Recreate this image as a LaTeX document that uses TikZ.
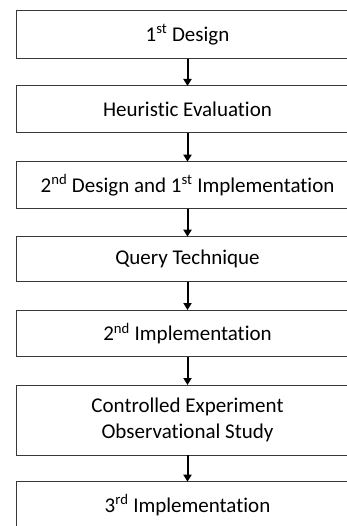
\documentclass[tikz,border=0pt]{standalone}
\usepackage{fontspec}
\setmainfont{Carlito}[Ligatures={NoCommon}]
\usetikzlibrary{arrows.meta}
\tikzset{
  stage/.style={draw=black!78, line width=1pt, fill=white, minimum width=341.6pt,
    inner sep=0pt, outer sep=0pt, align=center, font=\fontsize{21}{26}\selectfont},
  flow/.style={line width=2pt, -{Triangle[width=8pt,length=7pt]}}
}
\begin{document}
\begin{tikzpicture}[x=1pt,y=-1pt]
  \useasboundingbox (0,0) rectangle (347,526);
  \clip (0,0) rectangle (347,526);
  \fill[white] (0,0) rectangle (347,526);
  % stages of the process
  \node[stage, minimum height=48pt] (s1) at (187.5,34.7) {1\textsuperscript{st} Design};
  \node[stage, minimum height=47pt] (s2) at (187.5,109.5) {Heuristic Evaluation};
  \node[stage, minimum height=47pt] (s3) at (187.5,185.2) {2\textsuperscript{nd} Design and 1\textsuperscript{st} Implementation};
  \node[stage, minimum height=45pt] (s4) at (187.5,259.2) {Query Technique};
  \node[stage, minimum height=46.7pt] (s5) at (187.5,333.4) {2\textsuperscript{nd} Implementation};
  \node[stage, minimum height=70pt] (s6) at (187.5,420) {Controlled Experiment\\Observational Study};
  \node[stage, minimum height=47pt] (s7) at (187.5,505.2) {3\textsuperscript{rd} Implementation};
  % connectors
  \foreach \a/\b in {s1/s2,s2/s3,s3/s4,s4/s5,s5/s6,s6/s7}
    \draw[flow] (\a.south) -- (\b.north);
\end{tikzpicture}
\end{document}
